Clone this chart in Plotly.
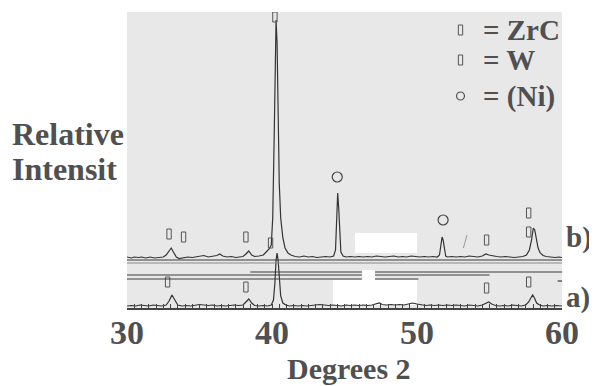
import plotly.graph_objects as go

# ---- data (2-theta in degrees, intensity in arbitrary units) ----
b_x = [30.0, 30.3, 30.5, 30.8, 31.0, 31.3, 31.6, 31.9, 32.2, 32.5, 32.7, 32.9, 33.05, 33.2, 33.4, 33.6,
       33.9, 34.2, 34.5, 34.8, 35.0, 35.3, 35.6, 35.9, 36.2, 36.4, 36.6, 36.9, 37.2, 37.5, 37.8, 38.0,
       38.2, 38.4, 38.6, 38.8, 39.1, 39.4, 39.6, 39.8, 39.95, 40.05, 40.15, 40.22, 40.28, 40.35, 40.42,
       40.5, 40.6, 40.75, 40.9, 41.1, 41.3, 41.6, 41.9, 42.2, 42.5, 42.8, 43.1, 43.4, 43.7, 44.0, 44.25,
       44.38, 44.46, 44.53, 44.6, 44.67, 44.75, 44.9, 45.1, 45.4, 45.7, 46.0, 46.3, 46.6, 46.9, 47.2,
       47.5, 47.8, 48.1, 48.4, 48.7, 49.0, 49.3, 49.6, 49.9, 50.2, 50.5, 50.8, 51.1, 51.4, 51.55, 51.65,
       51.73, 51.8, 51.88, 51.98, 52.1, 52.4, 52.7, 53.0, 53.3, 53.6, 53.9, 54.2, 54.5, 54.75, 54.95,
       55.2, 55.5, 55.8, 56.1, 56.4, 56.7, 57.0, 57.3, 57.55, 57.75, 57.9, 58.02, 58.12, 58.22, 58.35,
       58.5, 58.7, 58.9, 59.2, 59.5, 59.8, 60.0]
b_y = [51, 50, 51, 50.5, 51, 50, 51, 50, 50.5, 51, 53, 57, 60, 56, 51, 49.5,
       50, 51, 50.5, 51.5, 52, 52.5, 51, 51.5, 52.5, 54, 52, 51, 51.5, 50.5, 51, 51.5,
       54, 57, 53, 51.5, 52, 53, 56, 59, 63, 90, 170, 250, 288, 265, 190,
       125, 90, 70, 60, 55, 53, 51.5, 51, 52, 51, 51.5, 50.5, 51, 51.5, 51, 52,
       58, 85, 115, 100, 70, 56, 52, 51, 51.5, 51, 51.5, 51, 51.5, 51, 52,
       51.5, 51, 51.5, 52, 51, 51.5, 51, 52, 51.5, 51, 51.5, 51, 51.5, 51, 53, 62,
       71, 68, 58, 52, 51, 51.5, 51, 51.5, 51, 52, 51.5, 51, 52, 54, 53,
       52, 51.5, 51, 51.5, 51, 50.5, 51, 51.5, 53, 58, 68, 80, 78, 68, 60,
       55, 52.5, 51.5, 51, 50.5, 51, 50.5]

a_x = [30.0, 30.3, 30.6, 30.9, 31.2, 31.5, 31.8, 32.1, 32.4, 32.7, 32.9, 33.1, 33.3, 33.5, 33.8, 34.1,
       34.4, 34.7, 35.0, 35.3, 35.6, 35.9, 36.2, 36.5, 36.8, 37.1, 37.4, 37.7, 38.0, 38.2, 38.4, 38.6,
       38.8, 39.1, 39.4, 39.7, 39.95, 40.1, 40.2, 40.28, 40.35, 40.42, 40.5, 40.6, 40.75, 40.95, 41.2,
       41.5, 41.8, 42.1, 42.4, 42.7, 43.0, 43.3, 43.6, 43.9, 44.2, 44.5, 44.8, 45.1, 45.4, 45.7, 46.0,
       46.3, 46.6, 46.9, 47.2, 47.4, 47.6, 47.9, 48.2, 48.5, 48.8, 49.1, 49.4, 49.7, 50.0, 50.3, 50.6,
       50.9, 51.2, 51.5, 51.8, 52.1, 52.4, 52.7, 53.0, 53.3, 53.6, 53.9, 54.2, 54.5, 54.75, 54.95, 55.15,
       55.4, 55.7, 56.0, 56.3, 56.6, 56.9, 57.2, 57.5, 57.7, 57.85, 57.98, 58.1, 58.25, 58.45, 58.7, 59.0,
       59.3, 59.6, 60.0]
a_y = [2, 2.5, 2, 3, 2.5, 2, 3, 2.5, 2, 3, 7, 13, 8, 3, 2, 2.5,
       2, 3, 3.5, 3, 2.5, 3, 2, 2.5, 2, 2.5, 3, 2.5, 3, 6, 9, 5,
       2.5, 2, 2.5, 2, 3, 8, 25, 48, 55, 48, 28, 12, 5, 3, 2,
       2.5, 2, 2.5, 2, 2.5, 3, 3.5, 3, 2.5, 3, 2.5, 2, 3, 2.5, 3, 2.5,
       3, 2.5, 3, 4, 5, 3.5, 3, 3.5, 3, 3.5, 3, 4, 5, 4, 3, 2.5,
       3, 2.5, 3, 2.5, 3, 2.5, 3, 2.5, 2, 3, 2.5, 2, 3, 5, 6, 4,
       2.5, 2, 2.5, 2, 3, 2.5, 2, 3, 6, 10, 13, 10, 5, 3, 2, 2.5,
       2, 2.5, 2]

# phase markers (ZrC / W rectangles, (Ni) circles)
rect_b_x = [32.9, 33.9, 38.2, 39.9, 40.2, 54.8, 57.7, 57.7]
rect_b_y = [74, 71, 71, 65, 291, 68, 76, 95]
circ_b_x = [44.5, 51.8]
circ_b_y = [131, 88]
rect_a_x = [32.8, 38.2, 54.8, 57.7]
rect_a_y = [26, 21, 20, 26]

legend_labels = ["= ZrC", "= W", "= (Ni)"]
legend_y = [278, 248, 212]

x_ticks = [30, 40, 50, 60]

SERIF = "Liberation Serif"
TXT = "#505050"
LINE = "#333333"

fig = go.Figure()
fig.add_trace(go.Scatter(x=b_x, y=b_y, mode="lines", line=dict(color=LINE, width=1.2), hoverinfo="skip"))
fig.add_trace(go.Scatter(x=a_x, y=a_y, mode="lines", line=dict(color=LINE, width=1.2), hoverinfo="skip"))
fig.add_trace(go.Scatter(x=circ_b_x, y=circ_b_y, mode="markers",
                         marker=dict(symbol="circle-open", size=10, color="#444", line=dict(width=1.2)), hoverinfo="skip"))
# legend circle
fig.add_trace(go.Scatter(x=[53.0], y=[legend_y[2]], mode="markers",
                         marker=dict(symbol="circle-open", size=8, color="#555", line=dict(width=1.2)), hoverinfo="skip"))

shapes = []
# tall open rectangles for ZrC / W markers, placed from the marker arrays in data coordinates
for xx, yy in zip(rect_b_x + rect_a_x + [53.0, 53.0], rect_b_y + rect_a_y + legend_y[:2]):
    shapes.append(dict(type="rect", xref="x", yref="y", x0=xx - 0.15, x1=xx + 0.15, y0=yy - 5, y1=yy + 5,
                       line=dict(color="#555", width=1), fillcolor="rgba(0,0,0,0)"))

def hline(y, x0, x1, color="#3a3a3a", w=1.2):
    shapes.append(dict(type="line", xref="x", yref="y", x0=x0, x1=x1, y0=y, y1=y, line=dict(color=color, width=w)))
# scan artefacts: white patches and stray horizontal lines
for (x0, x1, y0, y1) in [(45.72, 50.0, 55, 75), (44.2, 50.0, 3, 28), (46.2, 47.1, 26, 38)]:
    shapes.append(dict(type="rect", xref="x", yref="y", x0=x0, x1=x1, y0=y0, y1=y1,
                       fillcolor="white", line=dict(width=0), layer="below"))
hline(48, 30, 60)
hline(45, 30, 60, color="#888", w=1)
hline(36, 38.5, 46.2); hline(36, 47.1, 60)
hline(33, 30, 46.2); hline(33, 47.1, 55.0)
hline(29, 30, 46.2); hline(29, 47.1, 50.1)
hline(27, 59.7, 60)
shapes.append(dict(type="line", xref="x", yref="y", x0=53.45, x1=53.2, y0=73, y1=60, line=dict(color="#999", width=1)))

ann = []
for lab, yy in zip(legend_labels, legend_y):
    ann.append(dict(x=0.814, y=yy, xref="paper", yref="y", text="<b>" + lab + "</b>", showarrow=False,
                    xanchor="left", yanchor="middle", font=dict(family=SERIF, size=29, color=TXT)))

def ptext(txt, xp, yp, size, xanchor="left", yanchor="middle"):
    ann.append(dict(x=xp, y=yp, xref="paper", yref="paper", text="<b>" + txt + "</b>", showarrow=False,
                    xanchor=xanchor, yanchor=yanchor, borderpad=0,
                    font=dict(family=SERIF, size=size, color=TXT)))

ptext("Relative", -0.266, 0.588, 32)
ptext("Intensit", -0.266, 0.470, 32)
ptext("b)", 1.008, 0.238, 29)
ptext("a)", 1.008, 0.034, 29)
ptext("Degrees 2", 0.51, -0.262, 30, xanchor="center", yanchor="bottom")

# the page body adds an 8 px offset, so the figure is 8 px smaller than the 597x386 window
fig.update_layout(
    width=589, height=378,
    margin=dict(l=119, r=35, t=4, b=78),
    paper_bgcolor="white", plot_bgcolor="#e8e8e8",
    showlegend=False,
    annotations=ann, shapes=shapes,
    xaxis=dict(range=[30, 60], tickvals=x_ticks, ticktext=[f"<b>{t}</b>" for t in x_ticks],
               ticks="inside", ticklen=4, tickcolor="#444", showline=True, linecolor="#444", linewidth=1.5,
               showgrid=False, zeroline=False, ticklabelstandoff=-7,
               minor=dict(ticks="inside", dtick=0.5, ticklen=4, tickcolor="#444", showgrid=False),
               tickfont=dict(family=SERIF, size=34, color=TXT)),
    yaxis=dict(range=[0, 296], visible=False, showgrid=False, zeroline=False),
)
fig.write_html("out.html")
